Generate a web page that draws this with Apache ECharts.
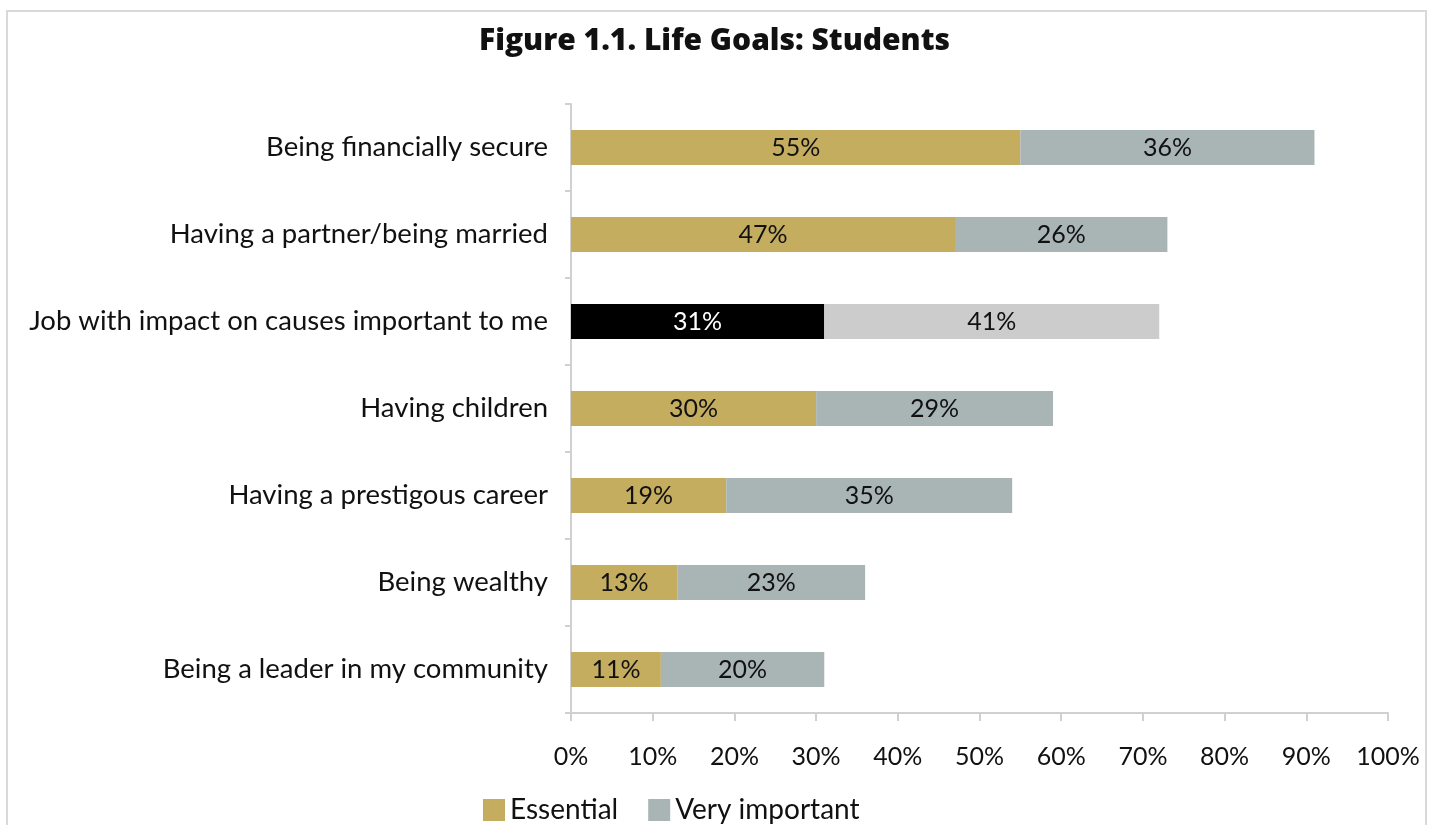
<!DOCTYPE html>
<html>
<head>
<meta charset="utf-8">
<script src="https://cdn.jsdelivr.net/npm/echarts@6/dist/echarts.min.js"></script>
<style>
  html, body { margin: 0; padding: 0; background: #ffffff; }
  #chart { width: 1437px; height: 825px; }
</style>
</head>
<body>
<div id="chart"></div>
<script>
// Life goals survey: share of students rating each goal
const categories = [
  'Being financially secure',
  'Having a partner/being married',
  'Job with impact on causes important to me',
  'Having children',
  'Having a prestigous career',
  'Being wealthy',
  'Being a leader in my community'
];
const essential = [55, 47, 31, 30, 19, 13, 11];
const veryImportant = [36, 26, 41, 29, 35, 23, 20];
const xTicks = [0, 10, 20, 30, 40, 50, 60, 70, 80, 90, 100];
const highlightIndex = 2;

const FONT = 'Lato';
const GOLD = '#c4ad5f';
const GREY = '#a9b5b5';

const essentialData = essential.map((v, i) => i === highlightIndex
  ? { value: v, itemStyle: { color: '#000000' }, label: { color: '#ffffff' } }
  : v);
const veryImportantData = veryImportant.map((v, i) => i === highlightIndex
  ? { value: v, itemStyle: { color: '#cccccc' } }
  : v);

const barLabel = {
  show: true,
  position: 'inside',
  formatter: '{c}%',
  fontFamily: FONT,
  fontSize: 25,
  color: '#111111'
};

const chart = echarts.init(document.getElementById('chart'));
chart.setOption({
  animation: false,
  backgroundColor: '#ffffff',
  title: {
    text: 'Figure 1.1. Life Goals: Students',
    left: 474,
    top: 21,
    textStyle: { fontFamily: 'Open Sans', fontWeight: 800, fontSize: 30, color: '#111111' }
  },
  graphic: [{
    type: 'rect',
    shape: { x: 7, y: 11, width: 1419, height: 830 },
    style: { fill: 'none', stroke: '#d9d9d9', lineWidth: 2 },
    silent: true
  }],
  legend: {
    top: 791,
    left: 478,
    itemWidth: 22,
    itemHeight: 22,
    itemGap: 30,
    icon: 'rect',
    textStyle: { fontFamily: FONT, fontSize: 28, color: '#111111' },
    data: ['Essential', 'Very important']
  },
  grid: { left: 571, right: 49, top: 104, bottom: 112, containLabel: false },
  xAxis: {
    type: 'value',
    min: 0,
    max: 100,
    interval: 10,
    axisLine: { show: true, lineStyle: { color: '#d0d0d0', width: 2 } },
    axisTick: { show: true, length: 8, lineStyle: { color: '#d0d0d0', width: 2 } },
    splitLine: { show: false },
    axisLabel: {
      margin: 31,
      fontFamily: FONT,
      fontSize: 25,
      color: '#111111',
      formatter: v => xTicks.includes(v) ? v + '%' : ''
    }
  },
  yAxis: {
    type: 'category',
    inverse: true,
    data: categories,
    axisLine: { show: true, lineStyle: { color: '#d0d0d0', width: 2 } },
    axisTick: { show: true, length: 6, lineStyle: { color: '#d0d0d0', width: 2 } },
    axisLabel: { margin: 23, fontFamily: FONT, fontSize: 27.5, color: '#111111' }
  },
  series: [
    {
      name: 'Essential',
      type: 'bar',
      stack: 'goals',
      barWidth: 35,
      itemStyle: { color: GOLD },
      label: barLabel,
      data: essentialData
    },
    {
      name: 'Very important',
      type: 'bar',
      stack: 'goals',
      barWidth: 35,
      itemStyle: { color: GREY },
      label: barLabel,
      data: veryImportantData
    }
  ]
});
</script>
</body>
</html>
